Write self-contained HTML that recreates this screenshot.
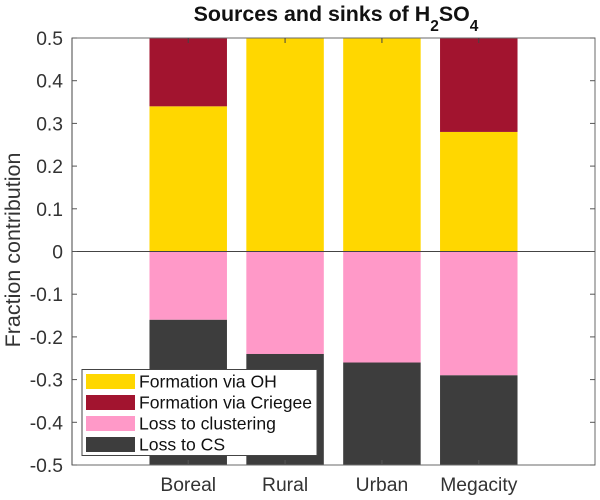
<!DOCTYPE html>
<html>
<head>
<meta charset="utf-8">
<style>
html,body{margin:0;padding:0;background:#fff;}
svg{display:block;}
text{font-family:"Liberation Sans",Arial,sans-serif;}
</style>
</head>
<body>
<svg id="chart" width="600" height="500" viewBox="0 0 600 500" xmlns="http://www.w3.org/2000/svg">
<g id="bars"></g>
<g id="axes"></g>
<text x="336" y="21" text-anchor="middle" font-size="21.4" font-weight="bold" fill="#111">Sources and sinks of H<tspan font-size="15.5" dy="10">2</tspan><tspan dy="-10">SO</tspan><tspan font-size="15.5" dy="10">4</tspan></text>
<text transform="translate(20,250) rotate(-90)" text-anchor="middle" font-size="21.5" fill="#333">Fraction contribution</text>
<g id="legend"></g>
</svg>
<script>
const categories = ['Boreal', 'Rural', 'Urban', 'Megacity'];
const formationOH = [0.34, 0.95, 0.97, 0.28];
const formationCriegee = [0.66, 0.05, 0.03, 0.72];
const lossClustering = [-0.16, -0.24, -0.26, -0.29];
const lossCS = [-0.84, -0.76, -0.74, -0.71];
const yTicks = [0.5, 0.4, 0.3, 0.2, 0.1, 0, -0.1, -0.2, -0.3, -0.4, -0.5];
const seriesNames = ['Formation via OH', 'Formation via Criegee', 'Loss to clustering', 'Loss to CS'];
const seriesColors = ['#ffd700', '#a2142f', '#ff99c8', '#3d3d3d'];

const NS = 'http://www.w3.org/2000/svg';
const plot = {left: 72, right: 595, top: 38, bottom: 465};
const xMin = -0.2, xMax = 5.2, yMin = -0.5, yMax = 0.5, barWidth = 0.8;
const xScale = v => plot.left + (v - xMin) / (xMax - xMin) * (plot.right - plot.left);
const yScale = v => plot.bottom - (v - yMin) / (yMax - yMin) * (plot.bottom - plot.top);
const clampY = v => Math.max(yMin, Math.min(yMax, v));

function make(parent, tag, attrs, text) {
  const el = document.createElementNS(NS, tag);
  for (const k in attrs) el.setAttribute(k, attrs[k]);
  if (text !== undefined) el.textContent = text;
  parent.appendChild(el);
  return el;
}

const barsG = document.getElementById('bars');
const axesG = document.getElementById('axes');
const legendG = document.getElementById('legend');

function drawSegment(value0, value1, index, color, label) {
  const x0 = xScale(index + 1 - barWidth / 2);
  const x1 = xScale(index + 1 + barWidth / 2);
  const y0 = yScale(clampY(value0));
  const y1 = yScale(clampY(value1));
  const r = make(barsG, 'rect', {x: x0, y: Math.min(y0, y1), width: x1 - x0, height: Math.abs(y1 - y0), fill: color});
  
  
}

categories.forEach((c, i) => {
  drawSegment(0, formationOH[i], i, seriesColors[0], 'formation-oh');
  drawSegment(formationOH[i], formationOH[i] + formationCriegee[i], i, seriesColors[1], 'formation-criegee');
  drawSegment(0, lossClustering[i], i, seriesColors[2], 'loss-clustering');
  drawSegment(lossClustering[i], lossClustering[i] + lossCS[i], i, seriesColors[3], 'loss-cs');
});

const axisColor = '#6a6a6a';
const baseline = make(axesG, 'line', {x1: plot.left, x2: plot.right, y1: yScale(0), y2: yScale(0), stroke: '#444', 'stroke-width': 1});



const frame = make(axesG, 'rect', {x: plot.left, y: plot.top, width: plot.right - plot.left, height: plot.bottom - plot.top, fill: 'none', stroke: axisColor, 'stroke-width': 1});



const leftSpine = make(axesG, 'line', {x1: plot.left, x2: plot.left, y1: plot.top, y2: plot.bottom, stroke: '#8a8a8a', 'stroke-width': 1.6});



yTicks.forEach(t => {
  const y = yScale(t);
  const a = make(axesG, 'line', {x1: plot.left, x2: plot.left + 5, y1: y, y2: y, stroke: '#555', 'stroke-width': 1});
  
  
  const b = make(axesG, 'line', {x1: plot.right - 5, x2: plot.right, y1: y, y2: y, stroke: '#555', 'stroke-width': 1});
  
  
  const l = make(axesG, 'text', {x: 63, y: y + 7, 'text-anchor': 'end', 'font-size': 19.3, fill: '#333'}, String(t));
  
  
});

categories.forEach((c, i) => {
  const x = xScale(i + 1);
  const a = make(axesG, 'line', {x1: x, x2: x, y1: plot.top, y2: plot.top + 5, stroke: '#444', 'stroke-width': 1});
  
  
  const b = make(axesG, 'line', {x1: x, x2: x, y1: plot.bottom - 5, y2: plot.bottom, stroke: '#555', 'stroke-width': 1});
  
  
  const l = make(axesG, 'text', {x: x, y: 491, 'text-anchor': 'middle', 'font-size': 19.3, fill: '#333'}, c);
  
  
});

const box = make(legendG, 'rect', {x: 82, y: 369.5, width: 235, height: 86, fill: '#fff', stroke: '#444', 'stroke-width': 1});


seriesNames.forEach((n, i) => {
  const y = 374 + i * 21;
  const s = make(legendG, 'rect', {x: 86, y: y, width: 49, height: 15, fill: seriesColors[i]});
  
  
  const t = make(legendG, 'text', {x: 139, y: y + 13.5, 'font-size': 17.6, fill: '#111'}, n);
  
  
});
</script>
</body>
</html>
